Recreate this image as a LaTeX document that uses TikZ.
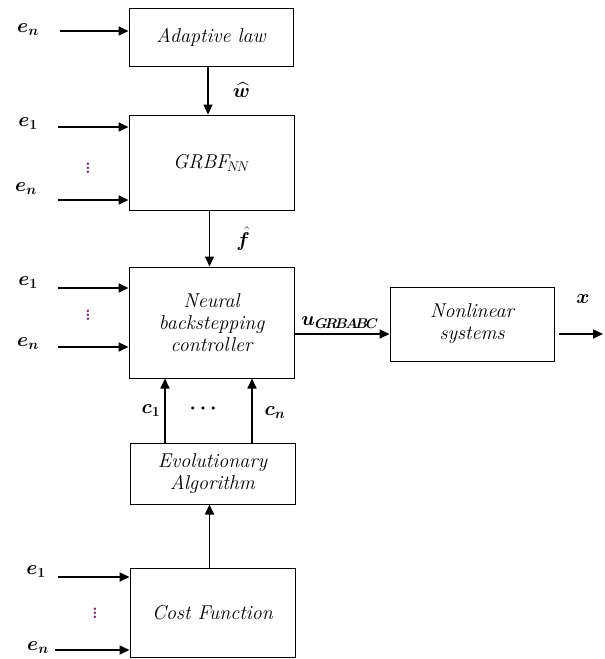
\RequirePackage{fix-cm}
\documentclass[tikz,border=0pt]{standalone}
\usepackage{amsmath,bm}
\usepackage{fontspec}
\usetikzlibrary{arrows.meta}
\definecolor{dotcol}{rgb}{0.45,0.15,0.4}
\begin{document}
\begin{tikzpicture}[x=1pt,y=-1pt,>={Triangle[length=10pt,width=9pt]},
	font=\fontsize{20}{22}\selectfont,
	block/.style={draw,line width=1pt,inner sep=0pt,align=center,font=\fontsize{20}{22}\selectfont\itshape},
	sig/.style={->,line width=1.7pt},
	vdots/.style={text=dotcol,inner sep=0pt,font=\fontsize{17}{17}\selectfont\bfseries}]
		\useasboundingbox (0,0) rectangle (605,659);
		\node[block,minimum width=164,minimum height=58] (adapt) at (211,37) {Adaptive law};
		\node[block,minimum width=165,minimum height=95] (grbf) at (211.5,162.5) {GRBF$_{\!N\!N}$};
		\node[block,minimum width=165,minimum height=111] (nbc) at (211.5,322.5) {Neural\\backstepping\\controller};
		\node[block,minimum width=164,minimum height=74] (nls) at (472,324) {Nonlinear\\systems};
		\node[block,minimum width=165,minimum height=61] (evo) at (212.5,473.5) {Evolutionary\\Algorithm};
		\node[block,minimum width=165,minimum height=89] (cost) at (212.5,612.5) {Cost Function};
		% adaptive law
		\coordinate (a1) at (60,31);
		\draw[sig] (a1) -- (a1 -| adapt.west);
		\node (la1) at (28,30) {$\bm{e}_{\bm{n}}$};
		\draw[sig] ([xshift=-3pt]adapt.south) -- ([xshift=-3pt]adapt.south |- grbf.north) node[midway,right=24pt,inner sep=0pt] {$\bm{\widehat{w}}$};
		% GRBF
		\coordinate (g1) at (58,127);
		\coordinate (g2) at (58,200);
		\draw[sig] (g1) -- (g1 -| grbf.west);
		\draw[sig] (g2) -- (g2 -| grbf.west);
		\node (lg1) at (28,124) {$\bm{e}_{\bm{1}}$};
		\node (lg2) at (26,189) {$\bm{e}_{\bm{n}}$};
		\node[vdots] (dg) at (88,165) {$\vdots$};
		\draw[sig] ([xshift=-2pt]grbf.south) -- ([xshift=-2pt]grbf.south |- nbc.north) node[midway,right=26pt,inner sep=0pt] {$\bm{\hat{f}}$};
		% controller
		\coordinate (n1) at (58,288);
		\coordinate (n2) at (58,347);
		\draw[sig] (n1) -- (n1 -| nbc.west);
		\draw[sig] (n2) -- (n2 -| nbc.west);
		\node (ln1) at (28,283) {$\bm{e}_{\bm{1}}$};
		\node (ln2) at (28,344) {$\bm{e}_{\bm{n}}$};
		\node[vdots] (dn) at (88,312) {$\vdots$};
		\coordinate (u) at (0,334);
		\draw[sig] (nbc.east |- u) -- (nls.west |- u) node[pos=0.48,above=5pt,inner sep=0pt] {$\bm{u}_{\bm{G\!R\!B\!A\!B\!C}}$};
		\coordinate (xo) at (603,334);
		\draw[sig] ([xshift=4pt]nls.east |- xo) -- (xo);
		\node (lx) at (583,299) {$\bm{x}$};
		% evolutionary algorithm
		\coordinate (c1) at (165,0);
		\coordinate (cn) at (252,0);
		\draw[sig] (c1 |- evo.north) -- (c1 |- nbc.south);
		\draw[sig] (cn |- evo.north) -- (cn |- nbc.south);
		\node (lc1) at (151,411) {$\bm{c}_{\bm{1}}$};
		\node (lcn) at (275,413) {$\bm{c}_{\bm{n}}$};
		\node (dc) at (205,409) {$\bm{\cdots}$};
		\draw[sig] ([xshift=-3pt]cost.north) -- ([xshift=-3pt]evo.south);
		% cost function
		\coordinate (f1) at (58,577);
		\coordinate (f2) at (55,650);
		\draw[sig] (f1) -- (f1 -| cost.west);
		\draw[sig] (f2) -- (f2 -| cost.west);
		\node (lf1) at (36,572) {$\bm{e}_{\bm{1}}$};
		\node (lf2) at (38,648) {$\bm{e}_{\bm{n}}$};
		\node[vdots] (df) at (95,610) {$\vdots$};
\end{tikzpicture}
\end{document}
